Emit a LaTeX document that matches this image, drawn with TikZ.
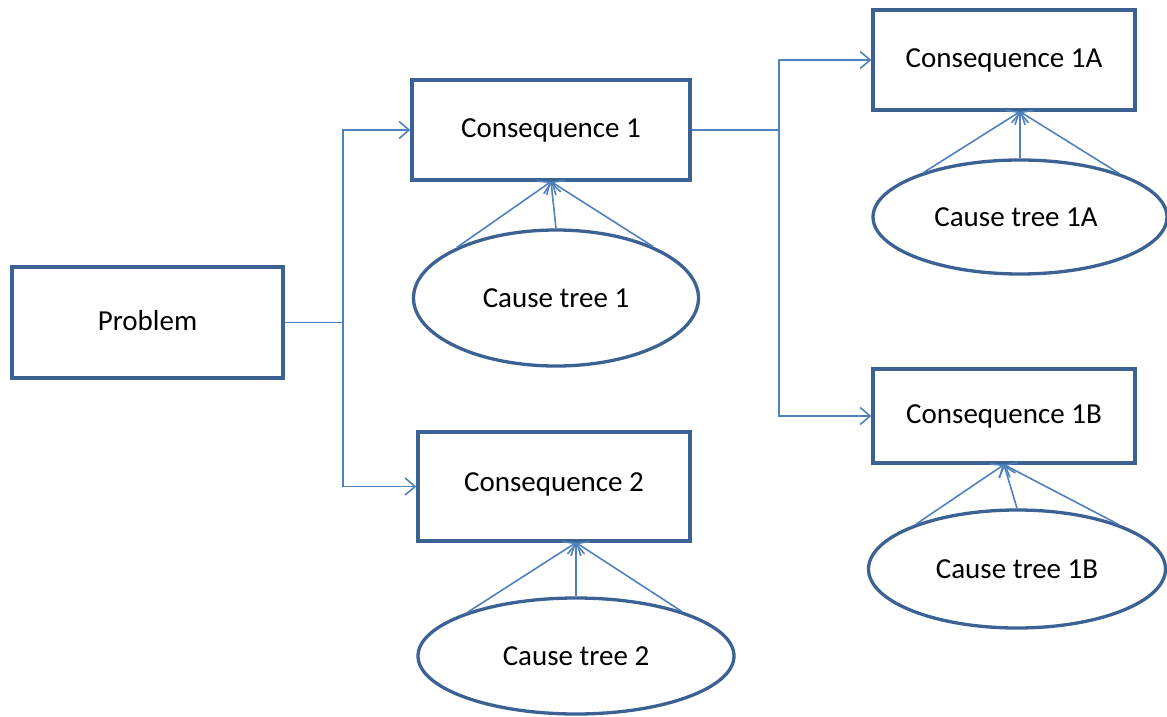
\documentclass[tikz,border=0pt]{standalone}
\usepackage{fontspec}
\setmainfont{Carlito}
\usetikzlibrary{arrows.meta,shapes.geometric}
\definecolor{boxline}{HTML}{3C6193}
\definecolor{linkline}{HTML}{4F81BD}
\begin{document}
\begin{tikzpicture}[x=1pt,y=-1pt,
  every node/.style={font=\fontsize{29}{34}\selectfont, text=black},
  conseq/.style={draw=boxline, line width=3.3pt, rectangle, inner sep=0pt},
  cause/.style={draw=boxline, line width=3.3pt, ellipse, inner sep=0pt},
  link/.style={draw=linkline, line width=1.6pt},
  arrowlink/.style={link, -{Straight Barb[length=10pt,width=17pt,line width=1.6pt]}}]
\useasboundingbox (0,0) rectangle (1167,717);

% boxes
\node[conseq, minimum width=271pt, minimum height=111pt] (prob) at (147.5,322.5) {\raisebox{5pt}{Problem}};
\node[conseq, minimum width=278pt, minimum height=100pt] (c1) at (551,130) {\raisebox{4pt}{Consequence 1}};
\node[conseq, minimum width=272pt, minimum height=109pt] (c2) at (554,486.5) {\raisebox{9pt}{Consequence 2}};
\node[conseq, minimum width=262pt, minimum height=100pt] (c1a) at (1004,60) {\raisebox{4pt}{Consequence 1A}};
\node[conseq, minimum width=262pt, minimum height=94pt] (c1b) at (1004,416) {\raisebox{4pt}{Consequence 1B}};

% cause trees
\node[cause, minimum width=285pt, minimum height=136pt] (ct1) at (556,298) {Cause tree 1};
\node[cause, minimum width=316pt, minimum height=116pt] (ct2) at (576,656) {Cause tree 2};
\node[cause, minimum width=294pt, minimum height=114pt] (ct1a) at (1020,217) {\hspace*{-8pt}Cause tree 1A};
\node[cause, minimum width=297pt, minimum height=118pt] (ct1b) at (1017,569) {Cause tree 1B};

% branching spines
\coordinate (spine1) at (343,0);
\coordinate (spine2) at (779,0);

\draw[link] (prob.east) -- (prob.east -| spine1);
\draw[arrowlink] (prob.east -| spine1) |- (c1.west);
\draw[arrowlink] (prob.east -| spine1) |- (c2.west);

\draw[link] (c1.east) -- (c1.east -| spine2);
\draw[arrowlink] (c1.east -| spine2) |- (c1a.west);
\draw[arrowlink] (c1.east -| spine2) |- (c1b.west);

% cause trees feeding their consequences
\draw[arrowlink] (ct1.153) -- (c1.south);
\draw[arrowlink] (ct1.north) -- (c1.south);
\draw[arrowlink] (ct1.28) -- (c1.south);

\coordinate (a2) at (ct2.north |- c2.south);
\draw[arrowlink] (ct2.158) -- (a2);
\draw[arrowlink] (ct2.north) -- (a2);
\draw[arrowlink] (ct2.23) -- (a2);

\coordinate (a1a) at (ct1a.north |- c1a.south);
\draw[arrowlink] (ct1a.155) -- (a1a);
\draw[arrowlink] (ct1a.north) -- (a1a);
\draw[arrowlink] (ct1a.24) -- (a1a);

\draw[arrowlink] (ct1b.156) -- (c1b.south);
\draw[arrowlink] (ct1b.north) -- (c1b.south);
\draw[arrowlink] (ct1b.24) -- (c1b.south);
\end{tikzpicture}
\end{document}
